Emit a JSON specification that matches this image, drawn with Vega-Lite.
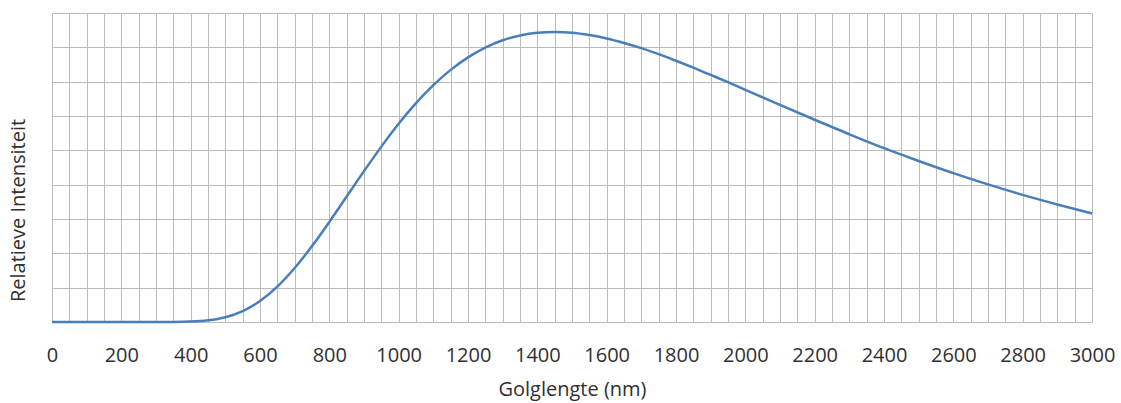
{
  "$schema": "https://vega.github.io/schema/vega-lite/v6.json",
  "width": 1040,
  "height": 309,
  "autosize": {"type": "none"},
  "padding": {"left": 52, "top": 13, "right": 29, "bottom": 81},
  "background": "white",
  "config": {"view": {"stroke": null}, "font": "Open Sans"},
  "data": {"values": [
    {"nm": 0, "v": 0}, {"nm": 100, "v": 0}, {"nm": 200, "v": 0}, {"nm": 300, "v": 0}, {"nm": 350, "v": 0.002},
    {"nm": 400, "v": 0.012}, {"nm": 450, "v": 0.048}, {"nm": 500, "v": 0.139}, {"nm": 550, "v": 0.318},
    {"nm": 600, "v": 0.613}, {"nm": 650, "v": 1.033}, {"nm": 700, "v": 1.573}, {"nm": 750, "v": 2.21},
    {"nm": 800, "v": 2.915}, {"nm": 850, "v": 3.654}, {"nm": 900, "v": 4.394}, {"nm": 950, "v": 5.108},
    {"nm": 1000, "v": 5.773}, {"nm": 1050, "v": 6.374}, {"nm": 1100, "v": 6.899}, {"nm": 1150, "v": 7.344},
    {"nm": 1200, "v": 7.709}, {"nm": 1250, "v": 7.994}, {"nm": 1300, "v": 8.206}, {"nm": 1350, "v": 8.347},
    {"nm": 1400, "v": 8.427}, {"nm": 1450, "v": 8.45}, {"nm": 1500, "v": 8.428}, {"nm": 1550, "v": 8.359},
    {"nm": 1600, "v": 8.259}, {"nm": 1650, "v": 8.127}, {"nm": 1700, "v": 7.976}, {"nm": 1750, "v": 7.801},
    {"nm": 1800, "v": 7.61}, {"nm": 1850, "v": 7.407}, {"nm": 1900, "v": 7.195}, {"nm": 1950, "v": 6.984},
    {"nm": 2000, "v": 6.763}, {"nm": 2100, "v": 6.322}, {"nm": 2200, "v": 5.891}, {"nm": 2300, "v": 5.469},
    {"nm": 2400, "v": 5.063}, {"nm": 2500, "v": 4.69}, {"nm": 2600, "v": 4.336}, {"nm": 2700, "v": 4.007},
    {"nm": 2800, "v": 3.702}, {"nm": 2900, "v": 3.423}, {"nm": 3000, "v": 3.16}
  ]},
  "mark": {"type": "line", "color": "#4a7ebb", "strokeWidth": 2.5, "interpolate": "monotone"},
  "encoding": {
    "x": {
      "field": "nm", "type": "quantitative",
      "scale": {"domain": [0, 3000], "nice": false, "zero": false},
      "axis": {
        "title": "Golglengte  (nm)",
        "values": [0,50,100,150,200,250,300,350,400,450,500,550,600,650,700,750,800,850,900,950,1000,1050,1100,1150,1200,1250,1300,1350,1400,1450,1500,1550,1600,1650,1700,1750,1800,1850,1900,1950,2000,2050,2100,2150,2200,2250,2300,2350,2400,2450,2500,2550,2600,2650,2700,2750,2800,2850,2900,2950,3000],
        "labelExpr": "datum.value % 200 === 0 ? datum.label : ''",
        "format": "d",
        "grid": true, "gridColor": "#bcbcbc", "gridWidth": 1, "gridOpacity": 1,
        "domain": true, "domainColor": "#bcbcbc", "domainWidth": 1,
        "ticks": false,
        "labelFontSize": 20, "labelColor": "#303030", "labelPadding": 23, "labelFlush": false,
        "labelOverlap": false,
        "titleFontSize": 20, "titleFontWeight": "normal", "titleColor": "#303030", "titlePadding": 14
      }
    },
    "y": {
      "field": "v", "type": "quantitative",
      "scale": {"domain": [0, 9], "nice": false},
      "axis": {
        "title": "Relatieve Intensiteit",
        "values": [0,1,2,3,4,5,6,7,8,9],
        "labels": false, "ticks": false, "domain": false,
        "grid": true, "gridColor": "#bcbcbc", "gridWidth": 1, "gridOpacity": 1,
        "titleFontSize": 20, "titleFontWeight": "normal", "titleColor": "#303030",
        "titleAnchor": "middle", "titleX": -34, "titleY": 197, "titleAngle": -90, "titleBaseline": "middle"
      }
    }
  }
}
